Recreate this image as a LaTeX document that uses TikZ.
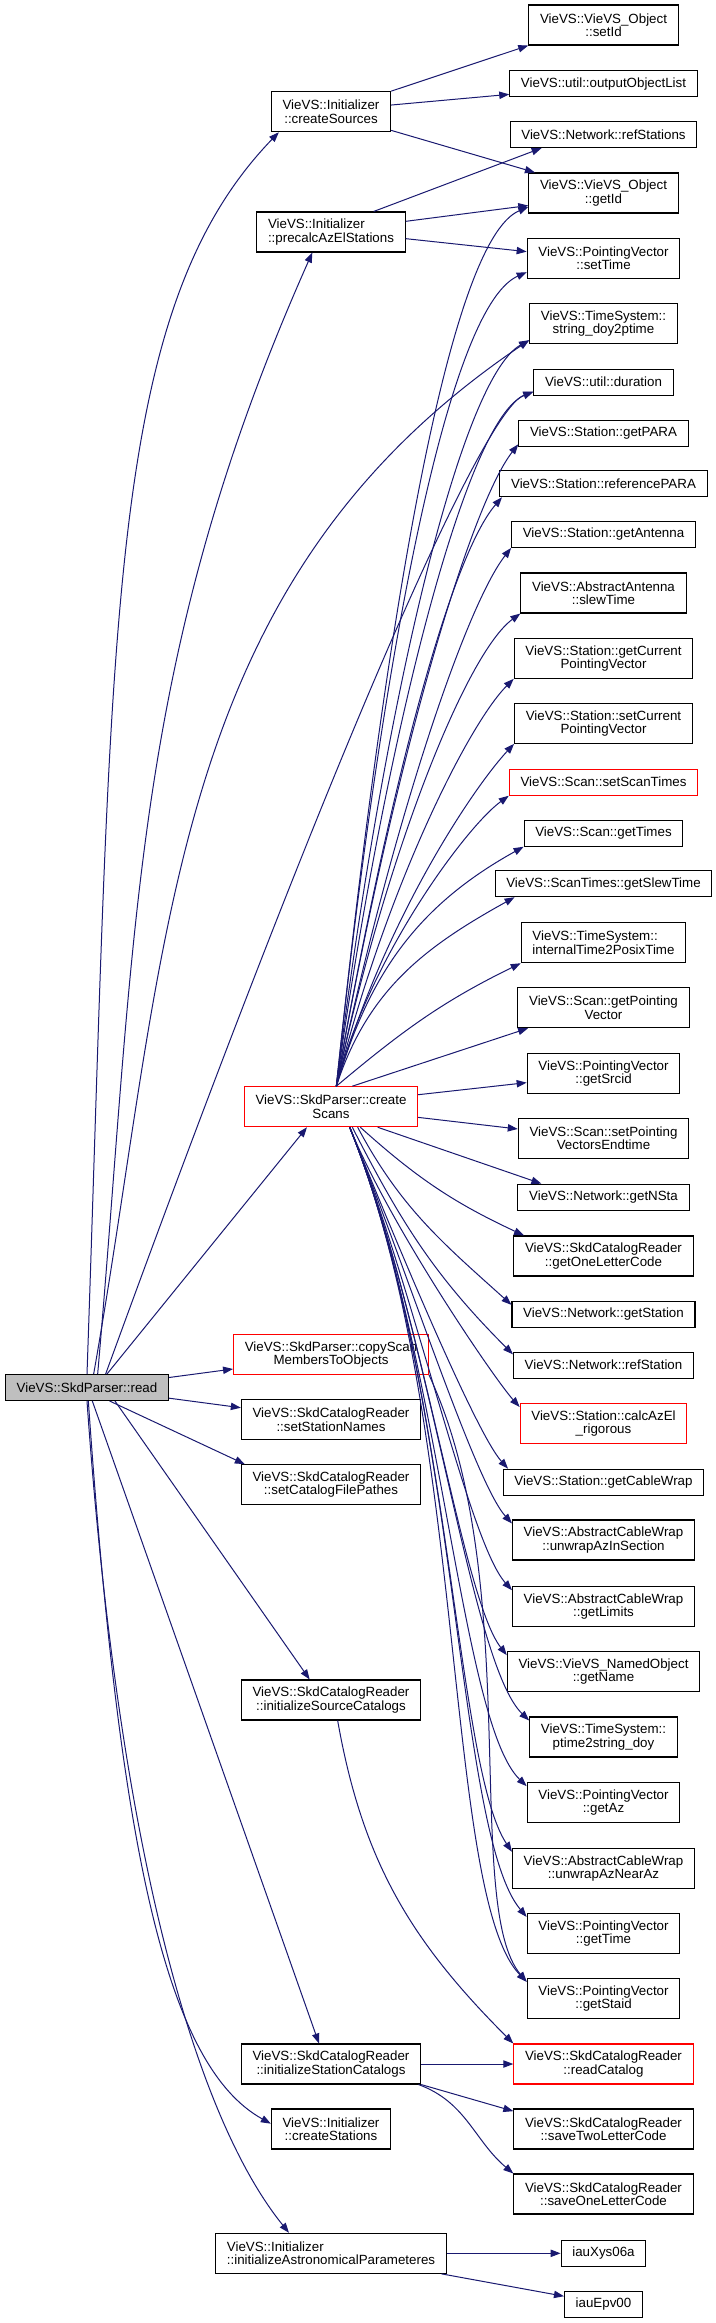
\documentclass[tikz,border=0pt]{standalone}
\usepackage{fontspec}
\setmainfont{Liberation Sans}
\usetikzlibrary{arrows.meta, calc}
\definecolor{cedge}{HTML}{191970}
\definecolor{cred}{HTML}{FF0000}
\definecolor{cgrey}{HTML}{BFBFBF}
\tikzset{
  fn/.style={draw=black, fill=white, line width=0.8pt, align=center, inner xsep=8.4pt, inner ysep=1pt, minimum height=19.5pt, font=\fontsize{10}{10}\selectfont},
  fn2/.style={fn, minimum height=30pt},
  hot/.style={draw=cred},
  call/.style={-{Triangle[length=7.5pt,width=5.5pt]}, draw=cedge, line width=0.75pt},
}
\begin{document}
\begin{tikzpicture}[x=0.75pt, y=0.75pt]
  \useasboundingbox (0,0) rectangle (715,-2323);
  % callees
  \node[fn2] (setid) at (603.5,-25) {VieVS::VieVS\_Object\\::setId};
  \node[fn] (outlist) at (603.5,-83.7) {VieVS::util::outputObjectList};
  \node[fn] (refstations) at (603.5,-134.5) {VieVS::Network::refStations};
  \node[fn2] (getid) at (603.5,-193) {VieVS::VieVS\_Object\\::getId};
  \node[fn2] (settime) at (603.5,-258.3) {VieVS::PointingVector\\::setTime};
  \node[fn2] (strdoy) at (603.5,-323.7) {VieVS::TimeSystem::\\string\_doy2ptime};
  \node[fn] (duration) at (603.5,-382.2) {VieVS::util::duration};
  \node[fn] (getpara) at (603.5,-433.4) {VieVS::Station::getPARA};
  \node[fn] (refpara) at (603.5,-483.7) {VieVS::Station::referencePARA};
  \node[fn] (getantenna) at (603.5,-534.4) {VieVS::Station::getAntenna};
  \node[fn2] (slewtime) at (603.5,-593) {VieVS::AbstractAntenna\\::slewTime};
  \node[fn2] (getcurpv) at (603.5,-658.3) {VieVS::Station::getCurrent\\PointingVector};
  \node[fn2] (setcurpv) at (603.5,-723.3) {VieVS::Station::setCurrent\\PointingVector};
  \node[fn, hot] (setscantimes) at (603.5,-782.2) {VieVS::Scan::setScanTimes};
  \node[fn] (gettimes) at (603.5,-833.2) {VieVS::Scan::getTimes};
  \node[fn] (getslewtime) at (603.5,-883.7) {VieVS::ScanTimes::getSlewTime};
  \node[fn2, align=left] (int2posix) at (603.5,-942.7) {VieVS::TimeSystem::\\internalTime2PosixTime};
  \node[fn2] (getpv) at (603.5,-1007.7) {VieVS::Scan::getPointing\\Vector};
  \node[fn2] (getsrcid) at (603.5,-1073.3) {VieVS::PointingVector\\::getSrcid};
  \node[fn2] (setpvend) at (603.5,-1138.3) {VieVS::Scan::setPointing\\VectorsEndtime};
  \node[fn] (getnsta) at (603.5,-1197.2) {VieVS::Network::getNSta};
  \node[fn2] (getoneletter) at (603.5,-1256) {VieVS::SkdCatalogReader\\::getOneLetterCode};
  \node[fn] (getstation) at (603.5,-1314.4) {VieVS::Network::getStation};
  \node[fn] (refstation) at (603.5,-1365.2) {VieVS::Network::refStation};
  \node[fn2, hot] (calcazel) at (603.5,-1423.5) {VieVS::Station::calcAzEl\\\_rigorous};
  \node[fn] (getcablewrap) at (603.5,-1482.2) {VieVS::Station::getCableWrap};
  \node[fn2] (unwrapinsec) at (603.5,-1540) {VieVS::AbstractCableWrap\\::unwrapAzInSection};
  \node[fn2] (getlimits) at (603.5,-1606.7) {VieVS::AbstractCableWrap\\::getLimits};
  \node[fn2] (getname) at (603.5,-1671.7) {VieVS::VieVS\_NamedObject\\::getName};
  \node[fn2] (p2sdoy) at (603.5,-1737) {VieVS::TimeSystem::\\ptime2string\_doy};
  \node[fn2] (getaz) at (603.5,-1802.7) {VieVS::PointingVector\\::getAz};
  \node[fn2] (unwrapnear) at (603.5,-1868.3) {VieVS::AbstractCableWrap\\::unwrapAzNearAz};
  \node[fn2] (gettime) at (603.5,-1933.5) {VieVS::PointingVector\\::getTime};
  \node[fn2] (getstaid) at (603.5,-1998.3) {VieVS::PointingVector\\::getStaid};
  \node[fn2, hot] (readcatalog) at (603.5,-2064) {VieVS::SkdCatalogReader\\::readCatalog};
  \node[fn2] (savetwo) at (603.5,-2129) {VieVS::SkdCatalogReader\\::saveTwoLetterCode};
  \node[fn2] (saveone) at (603.5,-2194) {VieVS::SkdCatalogReader\\::saveOneLetterCode};
  \node[fn] (xys) at (603.5,-2253.3) {iauXys06a};
  \node[fn] (epv) at (603.5,-2304.2) {iauEpv00};
  % middle column
  \node[fn2] (createsources) at (331,-111.7) {VieVS::Initializer\\::createSources};
  \node[fn2, align=left] (precalc) at (331,-232) {VieVS::Initializer\\::precalcAzElStations};
  \node[fn2, hot] (createscans) at (331,-1106.7) {VieVS::SkdParser::create\\Scans};
  \node[fn2, hot] (copyscan) at (331,-1354.3) {VieVS::SkdParser::copyScan\\MembersToObjects};
  \node[fn2] (setstanames) at (331,-1419.7) {VieVS::SkdCatalogReader\\::setStationNames};
  \node[fn2] (setcatpaths) at (331,-1484.7) {VieVS::SkdCatalogReader\\::setCatalogFilePathes};
  \node[fn2] (initsrc) at (331,-1700) {VieVS::SkdCatalogReader\\::initializeSourceCatalogs};
  \node[fn2] (initsta) at (331,-2064) {VieVS::SkdCatalogReader\\::initializeStationCatalogs};
  \node[fn2] (createstations) at (331,-2129) {VieVS::Initializer\\::createStations};
  \node[fn2, align=left] (initastro) at (331,-2253.3) {VieVS::Initializer\\::initializeAstronomicalParameteres};
  % caller
  \node[fn, fill=cgrey] (read) at (87,-1387.5) {VieVS::SkdParser::read};

  \draw[call] (createsources.north east) -- (setid.south west);
  \draw[call] ([yshift=5pt]createsources.east) -- ([yshift=-8pt]outlist.west);
  \draw[call] ([yshift=-14pt]createsources.east) -- ([xshift=5pt]getid.north west);
  \draw[call] ([xshift=32pt]precalc.north) -- ([xshift=24pt]refstations.south west);
  \draw[call] ([yshift=8pt]precalc.east) -- ([yshift=6pt]getid.south west);
  \draw[call] ([yshift=-5pt]precalc.east) -- ([yshift=5pt]settime.west);

  \draw[call] (read.north) to[out=88,in=226,out distance=560pt,in distance=188pt] ([xshift=6pt]createsources.south west);
  \draw[call] ([xshift=8pt]read.north) to[out=85,in=246] ([xshift=-14pt]precalc.south);
  \draw[call] ([xshift=5pt]read.north) to[out=80,in=214] ([yshift=3pt]strdoy.south west);
  \draw[call] ([xshift=14pt]read.north) to[out=70,in=200,out distance=525pt,in distance=38pt] ([yshift=3pt]duration.south west);
  \draw[call] ([xshift=15pt]read.north) -- ([xshift=-18pt]createscans.south);
  \draw[call] ([yshift=7.5pt]read.east) -- ([yshift=-11pt]copyscan.west);
  \draw[call] ([yshift=-8pt]read.east) -- ([yshift=9pt]setstanames.west);
  \draw[call] ([xshift=17pt]read.south) -- ([xshift=3pt]setcatpaths.north west);
  \draw[call] ([xshift=21pt]read.south) -- ([xshift=-16pt]initsrc.north);
  \draw[call] ([xshift=4pt]read.south) -- ([xshift=-9pt]initsta.north);
  \draw[call] ([xshift=1pt]read.south) to[out=-86,in=151,out distance=337pt,in distance=90pt] ([yshift=4pt]createstations.west);
  \draw[call] (read.south) to[out=-86,in=129,out distance=337pt,in distance=112pt] ([xshift=-31.5pt]initastro.north);

  \draw[call] ([xshift=4pt]createscans.north) to[out=84,in=203,out distance=330pt,in distance=67pt] ([yshift=5pt]getid.south west);
  \draw[call] ([xshift=4pt]createscans.north) to[out=84,in=204,out distance=305pt,in distance=67pt] ([yshift=5pt]settime.south west);
  \draw[call] ([xshift=4pt]createscans.north) to[out=83,in=209,out distance=280pt,in distance=60pt] ([yshift=3pt]strdoy.south west);
  \draw[call] ([xshift=4pt]createscans.north) to[out=82,in=202,out distance=261pt,in distance=55pt] ([yshift=3pt]duration.south west);
  \draw[call] ([xshift=4pt]createscans.north) to[out=80,in=232,out distance=241pt,in distance=60pt] ([yshift=2pt]getpara.south west);
  \draw[call] ([xshift=4pt]createscans.north) to[out=80,in=229,out distance=221pt,in distance=60pt] ([xshift=2pt]refpara.south west);
  \draw[call] ([xshift=4pt]createscans.north) to[out=78,in=232,out distance=202pt,in distance=55pt] (getantenna.south west);
  \draw[call] ([xshift=4pt]createscans.north) to[out=78,in=216,out distance=178pt,in distance=50pt] (slewtime.south west);
  \draw[call] ([xshift=4pt]createscans.north) to[out=76,in=225,out distance=153pt,in distance=48pt] (getcurpv.south west);
  \draw[call] ([xshift=4pt]createscans.north) to[out=74,in=227,out distance=129pt,in distance=45pt] (setcurpv.south west);
  \draw[call] ([xshift=4pt]createscans.north) to[out=76,in=216,out distance=98pt,in distance=40pt] (setscantimes.south west);
  \draw[call] ([xshift=4pt]createscans.north) to[out=74,in=209] (gettimes.south west);
  \draw[call] ([xshift=4pt]createscans.north) to[out=72,in=209] ([xshift=15pt]getslewtime.south west);
  \draw[call] ([xshift=4pt]createscans.north) to[out=40,in=206] (int2posix.south west);
  \draw[call] ([xshift=16pt]createscans.north) -- ([xshift=8pt]getpv.south west);
  \draw[call] ([yshift=9pt]createscans.east) -- ([yshift=-7pt]getsrcid.west);
  \draw[call] ([yshift=-8pt]createscans.east) -- ([yshift=7pt]setpvend.west);

  \draw[call] ([xshift=35pt]createscans.south) -- ([xshift=18pt]getnsta.north west);
  \draw[call] ([xshift=22pt]createscans.south) to[out=-42,in=155] ([xshift=8pt]getoneletter.north west);
  \draw[call] ([xshift=20pt]createscans.south) to[out=-62,in=138] ([yshift=-3pt]getstation.north west);
  \draw[call] ([xshift=16pt]createscans.south) to[out=-63,in=135] ([yshift=-2pt]refstation.north west);
  \draw[call] ([xshift=14pt]createscans.south) to[out=-68,in=132,out distance=78pt,in distance=29pt] ([yshift=-3pt]calcazel.north west);
  \draw[call] ([xshift=14pt]createscans.south) to[out=-68,in=132,out distance=95pt,in distance=36pt] ([xshift=4pt]getcablewrap.north west);
  \draw[call] ([xshift=14pt]createscans.south) to[out=-68,in=132,out distance=110pt,in distance=42pt] ([yshift=-3pt]unwrapinsec.north west);
  \draw[call] ([xshift=14pt]createscans.south) to[out=-68,in=132,out distance=128pt,in distance=49pt] ([yshift=-3pt]getlimits.north west);
  \draw[call] ([xshift=14pt]createscans.south) to[out=-68,in=128,out distance=147pt,in distance=55pt] ([yshift=-3pt]getname.north west);
  \draw[call] ([xshift=14pt]createscans.south) to[out=-68,in=136,out distance=165pt,in distance=62pt] ([yshift=-3pt]p2sdoy.north west);
  \draw[call] ([xshift=14pt]createscans.south) to[out=-68,in=136,out distance=183pt,in distance=69pt] ([yshift=-3pt]getaz.north west);
  \draw[call] ([xshift=14pt]createscans.south) to[out=-68,in=124,out distance=201pt,in distance=76pt] ([yshift=-3pt]unwrapnear.north west);
  \draw[call] ([xshift=14pt]createscans.south) to[out=-68,in=130,out distance=219pt,in distance=83pt] ([yshift=-3pt]gettime.north west);
  \draw[call] ([xshift=14pt]createscans.south) to[out=-68,in=134,out distance=237pt,in distance=90pt] ([yshift=-3pt]getstaid.north west);
  \draw[call] (copyscan.south east) to[out=-65,in=130,out distance=170pt,in distance=75pt] ([yshift=-3pt]getstaid.north west);

  \draw[call] ([xshift=5pt]initsrc.south) to[out=-80,in=135] (readcatalog.north west);
  \draw[call] (initsta.east) -- (readcatalog.west);
  \draw[call] (initsta.south east) -- ([yshift=-2pt]savetwo.north west);
  \draw[call] ([xshift=-2pt]initsta.south east) to[out=-20,in=140] (saveone.north west);
  \draw[call] (initastro.east) -- (xys.west);
  \draw[call] ([xshift=-4pt]initastro.south east) -- ([yshift=6pt]epv.west);
\end{tikzpicture}
\end{document}
